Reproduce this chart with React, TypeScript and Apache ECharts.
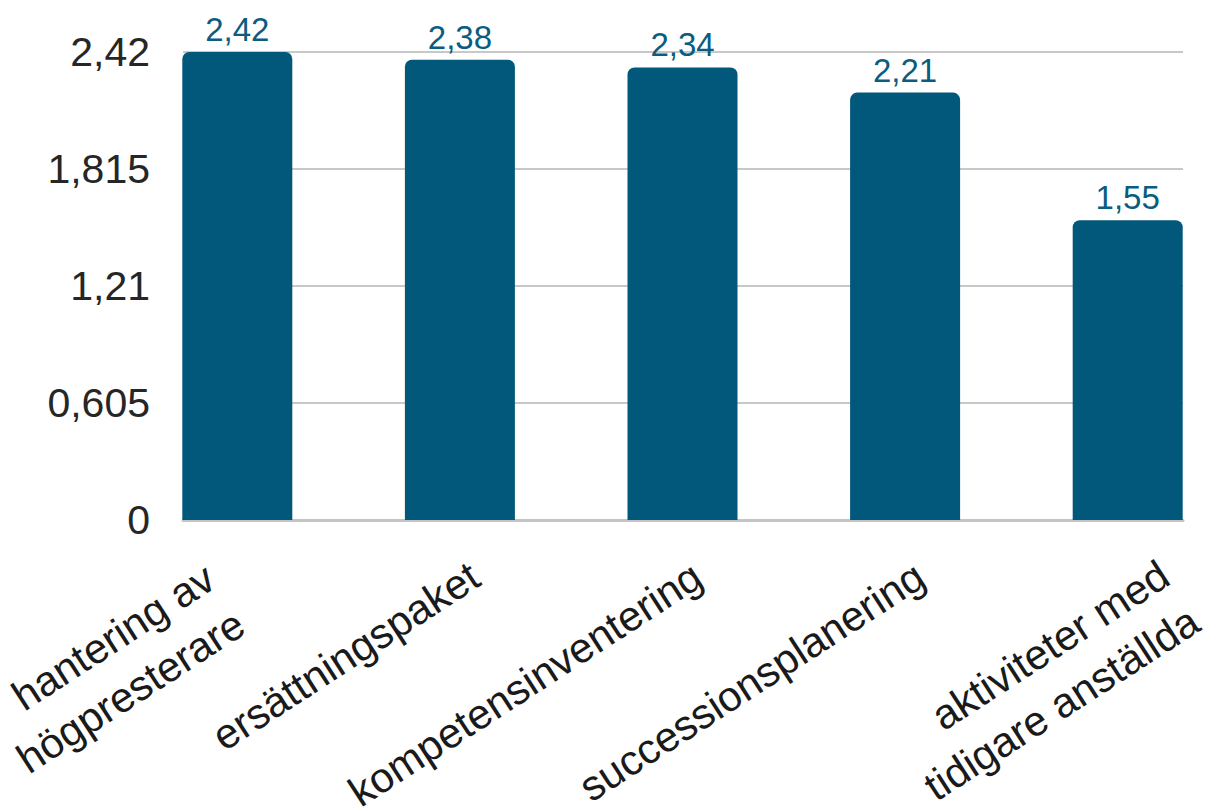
import React, { useEffect, useRef } from "react";
import * as echarts from "echarts";

const categories = [
  "hantering av\nhögpresterare",
  "ersättningspaket",
  "kompetensinventering",
  "successionsplanering",
  "aktiviteter med\ntidigare anställda",
];
const values = [2.42, 2.38, 2.34, 2.21, 1.55];
const yMax = 2.42;
const yInterval = 0.605;

const fmt = (v: number, d: number) => String(parseFloat(v.toFixed(d))).replace(".", ",");

// layout: horizontal shift of each rotated label's anchor from its bar centre, and its distance below the axis
const labelDx = [-12, 15, 15, 15, 52];
const labelMargin = [77, 52, 52, 52, 74];

export default function App() {
  const ref = useRef<HTMLDivElement>(null);
  useEffect(() => {
    document.body.style.margin = "0";
    const chart = echarts.init(ref.current!, null, { renderer: "svg" });
    const font = "'Liberation Sans', Arial, sans-serif";
    const top = 52;
    const height = 468;
    const catW = 222.6;
    const barGridLeft = 126;
    const gridBase = { top, height, containLabel: false, outerBoundsMode: "none" };

    const grids: any[] = [
      { ...gridBase, left: 183, width: 1000 },
      { ...gridBase, left: barGridLeft, width: catW * 5 },
    ];
    const xAxes: any[] = [
      {
        gridIndex: 0,
        type: "category",
        data: categories,
        axisLine: { show: true, lineStyle: { color: "#c4c4c4", width: 3 } },
        axisTick: { show: false },
        axisLabel: { show: false },
      },
      {
        gridIndex: 1,
        type: "category",
        data: categories,
        axisLine: { show: false },
        axisTick: { show: false },
        axisLabel: { show: false },
      },
    ];
    const yAxes: any[] = [
      {
        gridIndex: 0,
        type: "value",
        min: 0,
        max: yMax,
        interval: yInterval,
        axisLine: { show: false },
        axisTick: { show: false },
        axisLabel: {
          fontSize: 41,
          color: "#262626",
          margin: 33,
          fontFamily: font,
          formatter: (v: number) => fmt(v, 3),
        },
        splitLine: { lineStyle: { color: "#c8c8c8", width: 2 } },
      },
      { gridIndex: 1, type: "value", min: 0, max: yMax, interval: yInterval, show: false },
    ];
    categories.forEach((_, i) => {
      const g = grids.length;
      grids.push({ ...gridBase, left: barGridLeft + labelDx[i], width: catW * 5 });
      xAxes.push({
        gridIndex: g,
        type: "category",
        data: categories,
        axisLine: { show: false },
        axisTick: { show: false },
        axisLabel: {
          show: true,
          interval: 0,
          rotate: 33,
          margin: labelMargin[i],
          fontSize: 42,
          lineHeight: 55,
          color: "#1a1a1a",
          fontFamily: font,
          formatter: (v: string, idx: number) => (idx === i ? v : ""),
        },
      });
      yAxes.push({ gridIndex: g, type: "value", min: 0, max: yMax, interval: yInterval, show: false });
    });

    chart.setOption({
      animation: false,
      backgroundColor: "#ffffff",
      textStyle: { fontFamily: font },
      grid: grids,
      xAxis: xAxes,
      yAxis: yAxes,
      series: [
        {
          type: "bar",
          xAxisIndex: 1,
          yAxisIndex: 1,
          data: values,
          barWidth: 110,
          itemStyle: { color: "#02587b", borderRadius: [7, 7, 0, 0] },
          label: {
            show: true,
            position: "top",
            distance: 6,
            fontSize: 33,
            color: "#0a5c80",
            fontFamily: font,
            formatter: (p: any) => fmt(p.value, 2),
          },
        },
      ],
    });
    return () => chart.dispose();
  }, []);
  return (
    <div style={{ width: 1208, height: 807, overflow: "hidden" }}>
      <div ref={ref} style={{ width: 1340, height: 807 }} />
    </div>
  );
}
